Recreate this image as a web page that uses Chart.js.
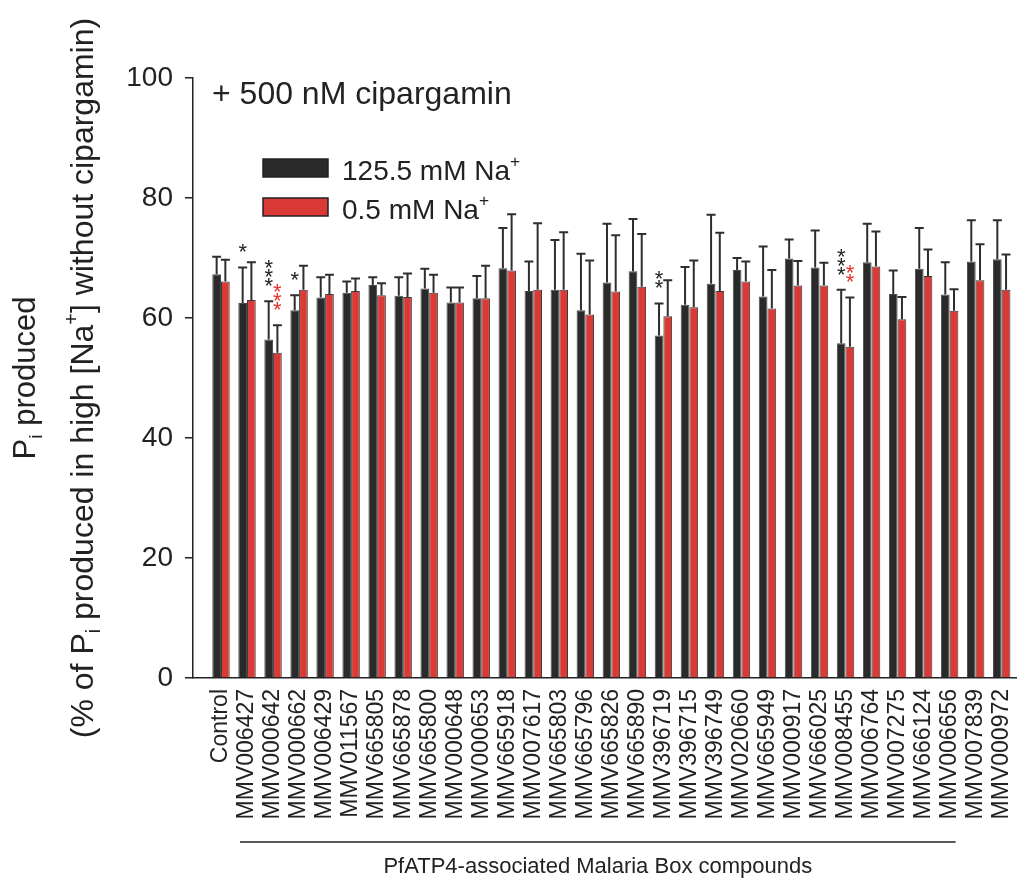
<!DOCTYPE html>
<html><head><meta charset="utf-8">
<script src="https://cdn.jsdelivr.net/npm/chart.js@4.4.1/dist/chart.umd.min.js"></script>
<style>html,body{margin:0;padding:0;background:#fff}canvas{display:block}</style>
</head><body>
<canvas id="c" width="1018" height="881"></canvas>
<script>
const categories = ['Control','MMV006427','MMV000642','MMV000662','MMV006429','MMV011567','MMV665805','MMV665878','MMV665800','MMV000648','MMV000653','MMV665918','MMV007617','MMV665803','MMV665796','MMV665826','MMV665890','MMV396719','MMV396715','MMV396749','MMV020660','MMV665949','MMV000917','MMV666025','MMV008455','MMV006764','MMV007275','MMV666124','MMV006656','MMV007839','MMV000972'];
const highNa =    [67.3,62.5,56.4,61.3,63.4,64.2,65.5,63.7,64.9,62.6,63.3,68.3,64.5,64.7,61.3,65.9,67.8,57.1,62.2,65.7,68.0,63.6,69.9,68.4,55.8,69.3,64.0,68.2,63.9,69.4,69.8];
const highNaSEM = [2.9,5.9,6.4,2.5,3.4,1.9,1.3,3.1,3.3,2.5,3.7,6.7,4.9,8.3,9.4,9.8,8.7,5.3,6.3,11.5,2.0,8.3,3.2,6.2,8.9,6.4,3.9,6.8,5.4,6.9,6.5];
const lowNa =     [66.1,63.0,54.2,64.7,64.0,64.5,63.8,63.5,64.2,62.6,63.3,67.9,64.7,64.7,60.6,64.4,65.2,60.3,61.8,64.5,66.1,61.6,65.4,65.4,55.2,68.6,59.8,67.0,61.2,66.3,64.7];
const lowNaSEM =  [3.6,6.3,4.6,4.0,3.2,2.1,2.0,3.9,3.0,2.5,5.4,9.4,11.1,9.6,9.0,9.4,8.8,6.0,7.8,9.7,3.3,6.4,4.1,3.8,8.2,5.8,3.7,4.4,3.6,6.0,5.9];
const seriesLabels = ['125.5 mM Na+','0.5 mM Na+'];
const starsHigh = {1:'*',2:'***',3:'*',17:'**',24:'***'};
const starsLow = {2:'***',24:'**'};
const yTicks = [0,20,40,60,80,100];
const groupFrom = 1, groupTo = 28;
const titleText = '+ 500 nM cipargamin';
const groupText = 'PfATP4-associated Malaria Box compounds';

const FONT = "'Liberation Sans', Arial, Helvetica, sans-serif";
const INK = '#222';
const BLACK = '#2a2a2a', RED = '#d93a35', STAR_RED = '#e8302a';
const sems = [highNaSEM, lowNaSEM];
const stars = [starsHigh, starsLow];
const starColors = [INK, STAR_RED];

function partsWidth(ctx, parts, size){
  let w = 0;
  parts.forEach(p=>{ const s = p.m==='n'?size:size*0.62; ctx.font = s+'px '+FONT; w += ctx.measureText(p.t).width; });
  return w;
}
function drawParts(ctx, parts, x, y, size){
  parts.forEach(p=>{
    const s = p.m==='n'?size:size*0.62;
    const dy = p.m==='sub'? size*0.22 : (p.m==='sup'? -size*0.48 : 0);
    ctx.font = s+'px '+FONT;
    ctx.fillText(p.t, x, y+dy);
    x += ctx.measureText(p.t).width;
  });
}
function labelParts(label){
  if (label.endsWith('+')) return [{t:label.slice(0,-1),m:'n'},{t:'+',m:'sup'}];
  return [{t:label,m:'n'}];
}

const extras = {
  id:'extras',
  afterDatasetsDraw(chart){
    const ctx = chart.ctx, ys = chart.scales.y, xs = chart.scales.x, ca = chart.chartArea;
    ctx.save();
    chart.data.datasets.forEach((ds,di)=>{
      const meta = chart.getDatasetMeta(di);
      meta.data.forEach((bar,i)=>{
        const topPx = ys.getPixelForValue(ds.data[i].y + sems[di][i]);
        ctx.strokeStyle = '#2e2e2e'; ctx.lineWidth = 2;
        ctx.beginPath();
        ctx.moveTo(bar.x, bar.y); ctx.lineTo(bar.x, topPx);
        ctx.moveTo(bar.x-4.5, topPx); ctx.lineTo(bar.x+4.5, topPx);
        ctx.stroke();
        const st = stars[di][i];
        if (st){
          ctx.fillStyle = starColors[di];
          ctx.font = '22px '+FONT; ctx.textAlign = 'center'; ctx.textBaseline = 'alphabetic';
          for (let k=0;k<st.length;k++){
            const cy = topPx - 21 - k*9;
            ctx.fillText('*', bar.x, cy + 12.8);
          }
        }
      });
    });
    ctx.fillStyle = INK; ctx.textAlign = 'left'; ctx.textBaseline = 'alphabetic';
    ctx.font = '32px '+FONT;
    ctx.fillText(titleText, ca.left + 19, 104);
    chart.data.datasets.forEach((ds,di)=>{
      const by = 159 + di*39;
      ctx.fillStyle = ds.backgroundColor; ctx.fillRect(263, by, 65, 18);
      ctx.strokeStyle = '#222'; ctx.lineWidth = 1.5; ctx.strokeRect(263, by, 65, 18);
      ctx.fillStyle = INK; ctx.textAlign = 'left';
      drawParts(ctx, labelParts(ds.label), 342, by + 21, 28);
    });
    const x1 = xs.getPixelForValue(groupFrom) - 7, x2 = xs.getPixelForValue(groupTo) + 6;
    ctx.strokeStyle = INK; ctx.lineWidth = 1.5;
    ctx.beginPath(); ctx.moveTo(x1, 842); ctx.lineTo(x2, 842); ctx.stroke();
    ctx.fillStyle = INK; ctx.textAlign = 'center'; ctx.font = '22px '+FONT;
    ctx.fillText(groupText, (x1+x2)/2, 873);
    const line1 = [{t:'P',m:'n'},{t:'i',m:'sub'},{t:' produced',m:'n'}];
    const line2 = [{t:'(% of P',m:'n'},{t:'i',m:'sub'},{t:' produced in high [Na',m:'n'},{t:'+',m:'sup'},{t:'] without cipargamin)',m:'n'}];
    const cy = (ca.top + ca.bottom)/2;
    [[line1,35,31],[line2,93,32]].forEach(([parts,bx,fs])=>{
      ctx.save();
      ctx.translate(bx, cy); ctx.rotate(-Math.PI/2);
      ctx.textAlign = 'left'; ctx.fillStyle = INK;
      const w = partsWidth(ctx, parts, fs);
      drawParts(ctx, parts, -w/2, 0, fs);
      ctx.restore();
    });
    ctx.restore();
  }
};

const chart = new Chart(document.getElementById('c'), {
  type: 'bar',
  data: {
    datasets: [
      {label: seriesLabels[0], data: highNa.map((v,i)=>({x:i,y:v})), backgroundColor: BLACK, borderColor: '#4a4a4a', borderWidth: 1},
      {label: seriesLabels[1], data: lowNa.map((v,i)=>({x:i,y:v})), backgroundColor: RED, borderColor: '#3a3a3a', borderWidth: 1}
    ]
  },
  options: {
    responsive: false,
    animation: false,
    devicePixelRatio: 1,
    layout: {padding: {top: 78, right: 2, bottom: 0, left: 0}},
    datasets: {bar: {categoryPercentage: 0.67, barPercentage: 1.0}},
    plugins: {legend: {display: false}, tooltip: {enabled: false}, title: {display: false}},
    scales: {
      x: {
        type: 'linear', min: -1.076, max: 30.55, offset: false,
        afterBuildTicks: (s)=>{ s.ticks = categories.map((c,i)=>({value:i})); },
        afterFit: (s)=>{ s.height = 881 - 678; s.paddingLeft = 0; s.paddingRight = 0; },
        grid: {display: true, drawOnChartArea: false, drawTicks: false, offset: false},
        border: {display: true, color: INK, width: 1.5},
        ticks: {autoSkip: false, minRotation: 90, maxRotation: 90, padding: 11, color: INK,
          font: {family: FONT, size: 23},
          callback: (v)=> categories[v] !== undefined ? categories[v] : ''}
      },
      y: {
        min: 0, max: 100,
        afterBuildTicks: (s)=>{ s.ticks = yTicks.map(v=>({value:v})); },
        afterFit: (s)=>{ s.width = 193; s.paddingTop = 0; s.paddingBottom = 0; },
        grid: {display: true, drawOnChartArea: false, drawTicks: true, tickLength: 8, color: INK, lineWidth: 1.5},
        border: {display: true, color: INK, width: 1.5},
        ticks: {padding: 12, color: INK, font: {family: FONT, size: 28}}
      }
    }
  },
  plugins: [extras]
});
</script>
</body></html>
